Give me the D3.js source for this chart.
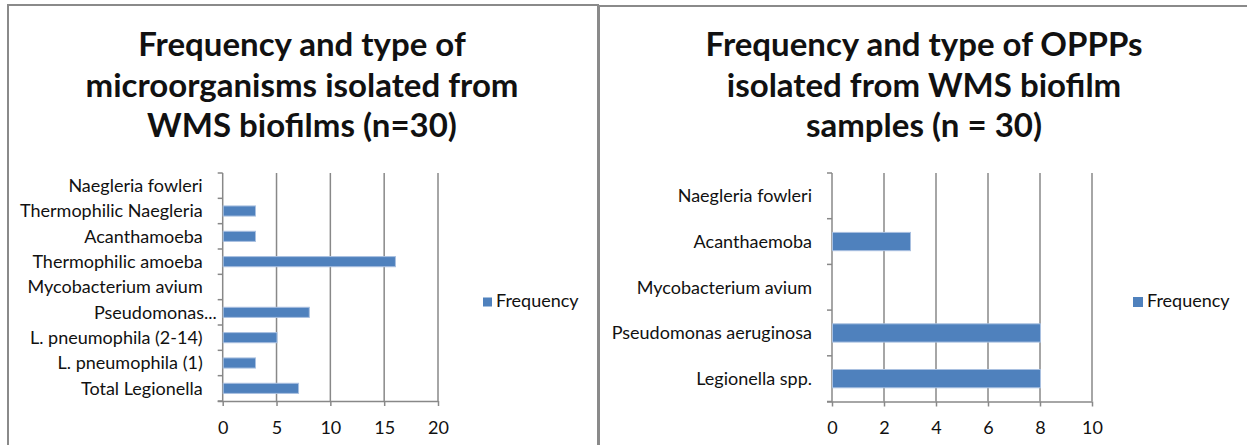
<!DOCTYPE html>
<html>
<head>
<meta charset="utf-8">
<script src="https://cdn.jsdelivr.net/npm/d3@7/dist/d3.min.js"></script>
<style>
  html, body { margin: 0; padding: 0; background: #fff; }
  svg { display: block; }
  text { font-family: Lato, "Open Sans", sans-serif; fill: #111; }
</style>
</head>
<body>
<svg id="fig" width="1247" height="445"></svg>
<script>
// Chart 1: microorganisms isolated from WMS biofilms (categories listed bottom to top)
const microCategories = [
  "Total Legionella", "L. pneumophila (1)", "L. pneumophila (2-14)", "Pseudomonas...",
  "Mycobacterium avium", "Thermophilic amoeba", "Acanthamoeba",
  "Thermophilic Naegleria", "Naegleria fowleri"
];
const microFrequency = [7, 3, 5, 8, 0, 16, 3, 3, 0];
const microTicks = [0, 5, 10, 15, 20];
const microTitle = ["Frequency and type of", "microorganisms isolated from", "WMS biofilms (n=30)"];

// Chart 2: OPPPs isolated from WMS biofilm samples (bottom to top)
const opppCategories = [
  "Legionella spp.", "Pseudomonas aeruginosa", "Mycobacterium avium",
  "Acanthaemoba", "Naegleria fowleri"
];
const opppFrequency = [8, 8, 0, 3, 0];
const opppTicks = [0, 2, 4, 6, 8, 10];
const opppTitle = ["Frequency and type of OPPPs", "isolated from WMS biofilm", "samples (n = 30)"];

const seriesName = "Frequency";

const BAR = "#4F81BD", BAR_EDGE = "#A9C0E0", GRID = "#888888", FRAME = "#8a8a8a";
const LABEL_SIZE = "18px";
const svg = d3.select("#fig");

// Panel frames
svg.append("rect").attr("x", 8).attr("y", 5).attr("width", 590).attr("height", 460)
  .attr("fill", "none").attr("stroke", FRAME).attr("stroke-width", 2);
svg.append("rect").attr("x", 599).attr("y", 6).attr("width", 660).attr("height", 460)
  .attr("fill", "none").attr("stroke", FRAME).attr("stroke-width", 2);

function drawChart(cfg) {
  const g = svg.append("g");

  // title
  const title = g.append("text")
    .attr("text-anchor", "middle")
    .style("font-weight", 700).style("font-size", "33px");
  cfg.title.forEach((line, i) => {
    title.append("tspan").attr("x", cfg.titleX).attr("y", 56 + i * 40.5).text(line);
  });

  const x = d3.scaleLinear().domain([cfg.ticks[0], cfg.ticks[cfg.ticks.length - 1]])
    .range([cfg.x0, cfg.x1]);
  const y = d3.scaleBand().domain(cfg.categories)
    .range([cfg.yBottom, cfg.yTop]).paddingInner(0.6).paddingOuter(0.3);
  const step = y.step();

  // vertical gridlines
  g.append("g").selectAll("line").data(cfg.ticks.slice(1)).join("line")
    .attr("x1", d => x(d)).attr("x2", d => x(d))
    .attr("y1", cfg.yTop).attr("y2", cfg.yBottom)
    .attr("stroke", GRID).attr("stroke-width", 1.5);

  // x axis
  const xAxis = g.append("g").attr("transform", `translate(0,${cfg.yBottom})`)
    .call(d3.axisBottom(x).tickValues(cfg.ticks).tickSize(5).tickPadding(15).tickSizeOuter(0));
  xAxis.select(".domain").attr("stroke", GRID).attr("stroke-width", 1.5)
    .attr("d", `M${cfg.x0 - 5},0.5H${cfg.x1}`);
  xAxis.selectAll(".tick line").attr("stroke", GRID).attr("stroke-width", 1.5);
  xAxis.selectAll(".tick text").style("font-size", LABEL_SIZE)
    .style("font-family", "Lato, sans-serif").attr("fill", "#111");

  // y axis line with tick marks at category boundaries
  g.append("line").attr("x1", cfg.x0).attr("x2", cfg.x0)
    .attr("y1", cfg.yTop).attr("y2", cfg.yBottom)
    .attr("stroke", GRID).attr("stroke-width", 1.5);
  g.append("g").selectAll("line").data(d3.range(cfg.categories.length + 1)).join("line")
    .attr("x1", cfg.x0 - 5).attr("x2", cfg.x0)
    .attr("y1", i => cfg.yBottom - i * step).attr("y2", i => cfg.yBottom - i * step)
    .attr("stroke", GRID).attr("stroke-width", 1.5);

  // category labels
  g.append("g").selectAll("text").data(cfg.categories).join("text")
    .attr("x", d => cfg.x0 - 20 + (d.endsWith("...") ? 14 : 0))
    .attr("y", d => y(d) + y.bandwidth() / 2)
    .attr("dy", "0.35em")
    .attr("text-anchor", "end")
    .style("font-size", LABEL_SIZE)
    .text(d => d);

  // bars
  g.append("g").selectAll("rect").data(cfg.values.map((v, i) => ({ c: cfg.categories[i], v })))
    .join("rect")
    .filter(d => d.v > 0)
    .attr("x", x(0) + 0.5)
    .attr("y", d => y(d.c))
    .attr("width", d => x(d.v) - x(0))
    .attr("height", y.bandwidth())
    .attr("fill", BAR).attr("stroke", BAR_EDGE).attr("stroke-width", 1);

  // legend
  g.append("rect").attr("x", cfg.legendX).attr("y", 302 - cfg.legendBox / 2)
    .attr("width", cfg.legendBox).attr("height", cfg.legendBox).attr("fill", BAR);
  g.append("text").attr("x", cfg.legendX + cfg.legendBox + 4).attr("y", 301)
    .attr("dy", "0.35em").style("font-size", LABEL_SIZE).text(seriesName);
}

drawChart({
  categories: microCategories, values: microFrequency, ticks: microTicks, title: microTitle,
  titleX: 302, x0: 222.7, x1: 438, yTop: 173, yBottom: 401,
  legendX: 483, legendBox: 9
});

drawChart({
  categories: opppCategories, values: opppFrequency, ticks: opppTicks, title: opppTitle,
  titleX: 924, x0: 832, x1: 1092, yTop: 173, yBottom: 401.5,
  legendX: 1133, legendBox: 10
});
</script>
</body>
</html>
